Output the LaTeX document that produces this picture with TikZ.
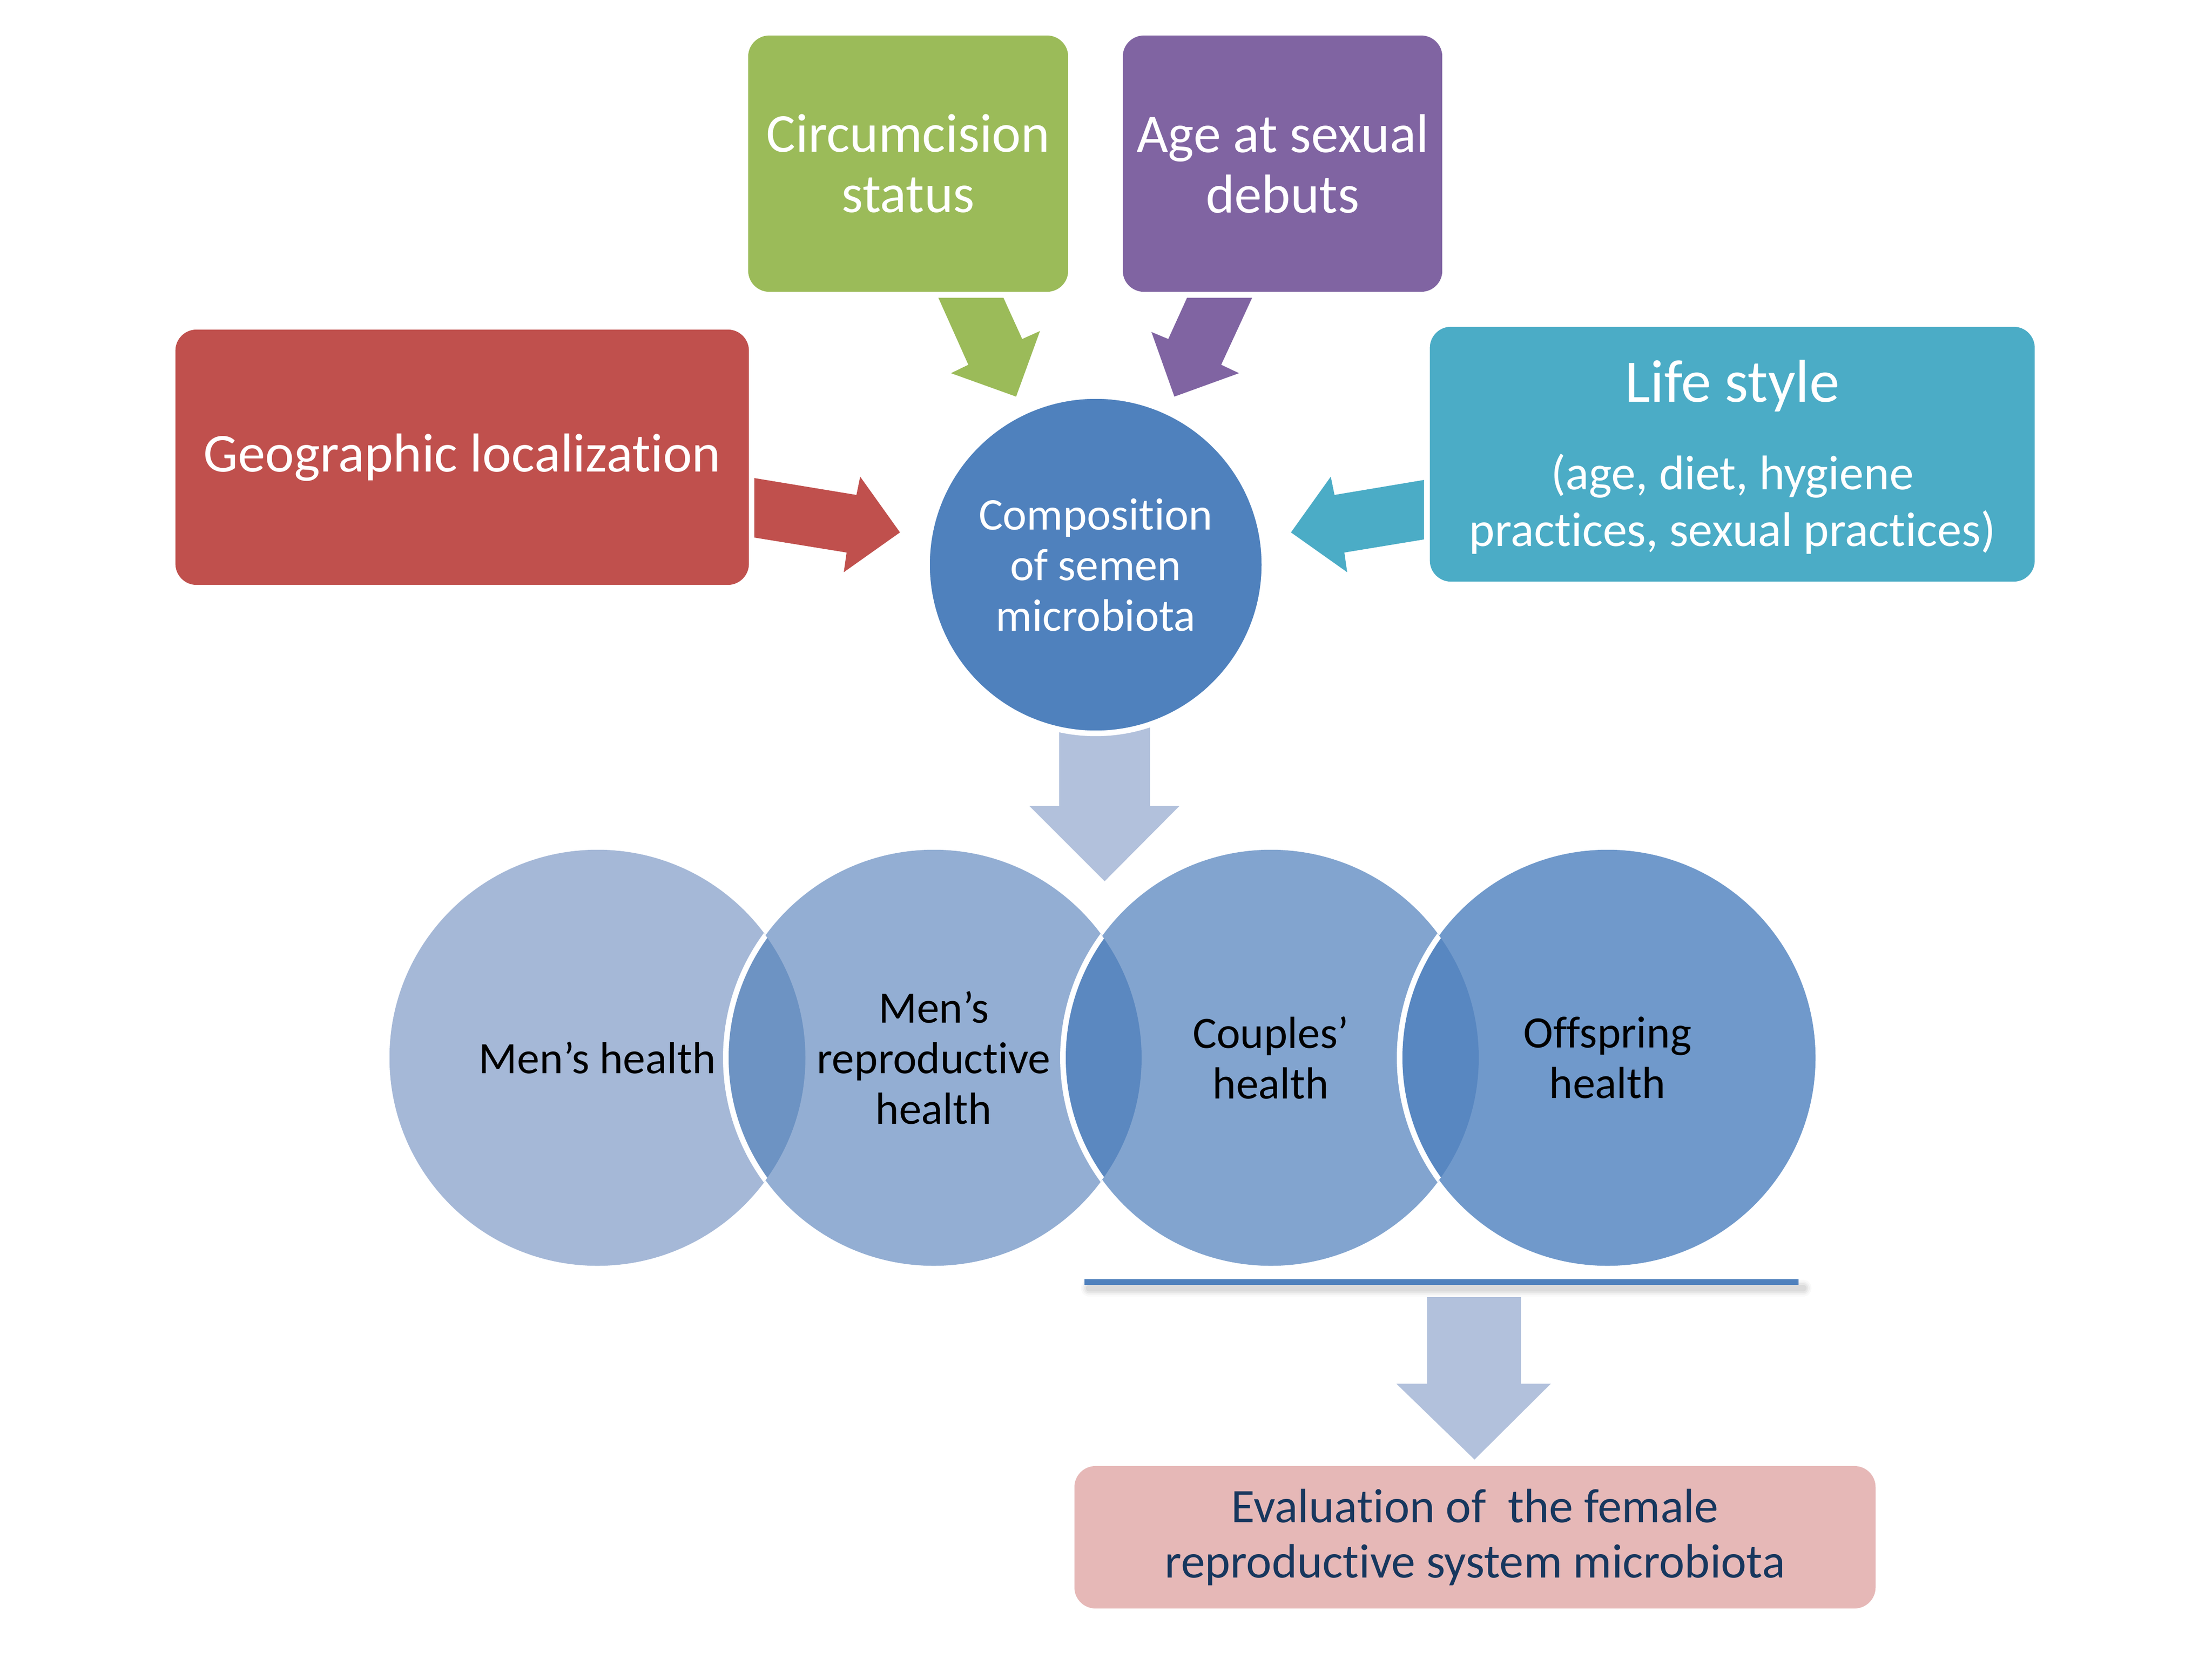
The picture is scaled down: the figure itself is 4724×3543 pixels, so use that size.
\documentclass[tikz,border=0pt]{standalone}
\usepackage{fontspec}
\setmainfont{Carlito}[Ligatures=NoCommon]
\definecolor{cgreen}{HTML}{9BBB59}
\definecolor{cpurple}{HTML}{8064A2}
\definecolor{cred}{HTML}{C0504D}
\definecolor{cteal}{HTML}{4BACC6}
\definecolor{cblue}{HTML}{4F81BD}
\definecolor{carrow}{HTML}{B2C1DC}
\definecolor{cpink}{HTML}{E6B8B7}
\definecolor{cnavy}{HTML}{17375E}
\definecolor{cvone}{HTML}{A5B8D7}
\definecolor{cvtwo}{HTML}{93AED3}
\definecolor{cvthree}{HTML}{82A4CF}
\definecolor{cvfour}{HTML}{7099CB}
\definecolor{clensa}{HTML}{6D93C3}
\definecolor{clensb}{HTML}{5B88C0}
\definecolor{clensc}{HTML}{5887C1}
\newcommand\fsbig{\fontsize{33.3pt}{36.7pt}\selectfont}
\newcommand\fslife{\fontsize{36.7pt}{40pt}\selectfont}
\newcommand\fsparen{\fontsize{29.6pt}{34.4pt}\selectfont}
\newcommand\fscomp{\fontsize{27.6pt}{30.7pt}\selectfont}
\newcommand\fsvenn{\fontsize{27.3pt}{30.7pt}\selectfont}
\newcommand\fspink{\fontsize{29.3pt}{33.3pt}\selectfont}
\tikzset{
  factorbox/.style={rectangle, rounded corners=0.45cm, inner sep=0pt, align=center, text=white},
  vennnode/.style={circle, minimum size=8.88cm, inner sep=0pt, align=center, text=black, font=\fsvenn},
  blockarrow/.style={draw=none},
  sepline/.style={white, line width=3.4pt}
}
\begin{document}
\begin{tikzpicture}[x=0.01cm,y=-0.01cm]
\useasboundingbox (0,0) rectangle (4724,3543);
\fill[white] (0,0) rectangle (4724,3543);

% factor boxes
\node[factorbox, fill=cgreen, minimum width=6.83cm, minimum height=5.47cm, font=\fsbig] (circ) at (1939.5,349.5) {Circumcision\\status};
\node[factorbox, fill=cpurple, minimum width=6.82cm, minimum height=5.47cm, font=\fsbig] (age) at (2739,349.5) {Age at sexual\\debuts};
\node[factorbox, fill=cred, minimum width=12.24cm, minimum height=5.45cm, font=\fsbig] (geo) at (987,976.5) {Geographic localization};
\node[factorbox, fill=cteal, minimum width=12.91cm, minimum height=5.44cm, font=\fsparen, text depth=0pt] (life) at (3699.5,970) {};
\node[align=center, text=white, font=\fsparen, inner sep=0pt] (lifetext) at (3699.5,976) {{\fslife Life style}\\[18.6pt](age, diet, hygiene\\practices, sexual practices)};

% block arrows towards the centre
\fill[cgreen, blockarrow] (2004,636) -- (2143,636) -- (2183,724) -- (2221,707) -- (2170,847) -- (2031,797) -- (2068,779) -- cycle;
\fill[cpurple, blockarrow] (2535,636) -- (2674,636) -- (2608,779) -- (2646,797) -- (2508,847) -- (2459,709) -- (2495,724) -- cycle;
\fill[cred, blockarrow] (1611,1021) -- (1829,1057) -- (1837,1018) -- (1922,1137) -- (1802,1222) -- (1808,1180) -- (1611,1148) -- cycle;
\fill[cteal, blockarrow] (3041,1025) -- (2850,1057) -- (2842,1018) -- (2757,1137) -- (2877,1222) -- (2871,1180) -- (3041,1152) -- cycle;

% down arrow from centre
\fill[carrow, blockarrow] (2262,1540) -- (2456,1540) -- (2456,1721) -- (2519,1721) -- (2359,1882) -- (2198,1721) -- (2262,1721) -- cycle;

% centre circle
\node[circle, fill=cblue, draw=white, line width=3.4pt, minimum size=7.2cm, inner sep=0pt, align=center, text=white, font=\fscomp] (comp) at (2340,1206) {Composition\\of semen\\microbiota};

% linear venn
\node[vennnode, fill=cvone] (v1) at (1276,2259) {Men’s health};
\node[vennnode, fill=cvtwo] (v2) at (1994,2259) {Men’s\\reproductive\\health};
\node[vennnode, fill=cvthree] (v3) at (2714,2259) {Couples’\\health};
\node[vennnode, fill=cvfour] (v4) at (3433,2259) {Offspring\\health};
\begin{scope}
  \clip (v1.center) circle (444);
  \fill[clensa] (v2.center) circle (444);
  \draw[sepline] (v2.center) circle (444);
\end{scope}
\begin{scope}
  \clip (v2.center) circle (444);
  \fill[clensb] (v3.center) circle (444);
  \draw[sepline] (v3.center) circle (444);
\end{scope}
\begin{scope}
  \clip (v3.center) circle (444);
  \fill[clensc] (v4.center) circle (444);
  \draw[sepline] (v4.center) circle (444);
\end{scope}

% bracket line with soft shadow
\coordinate (la) at (2316,2738);
\coordinate (lb) at (3841,2738);
\foreach \w/\o in {10pt/0.025, 8pt/0.03, 6pt/0.04, 4pt/0.05}
  \draw[black, opacity=\o, line width=\w, line cap=round] ([xshift=0.1cm,yshift=-0.13cm]la) -- ([xshift=0.1cm,yshift=-0.13cm]lb);
\draw[cblue, line width=3.4pt] (la) -- (lb);

% bottom arrow
\fill[carrow, blockarrow] (3048,2770) -- (3248,2770) -- (3248,2955) -- (3312,2955) -- (3149,3117) -- (2982,2955) -- (3048,2955) -- cycle;

% evaluation box
\node[factorbox, fill=cpink, text=cnavy, minimum width=17.1cm, minimum height=3.04cm, font=\fspink] (eval) at (3150,3283) {Evaluation of\ \ the female\\reproductive system microbiota};
\end{tikzpicture}
\end{document}
